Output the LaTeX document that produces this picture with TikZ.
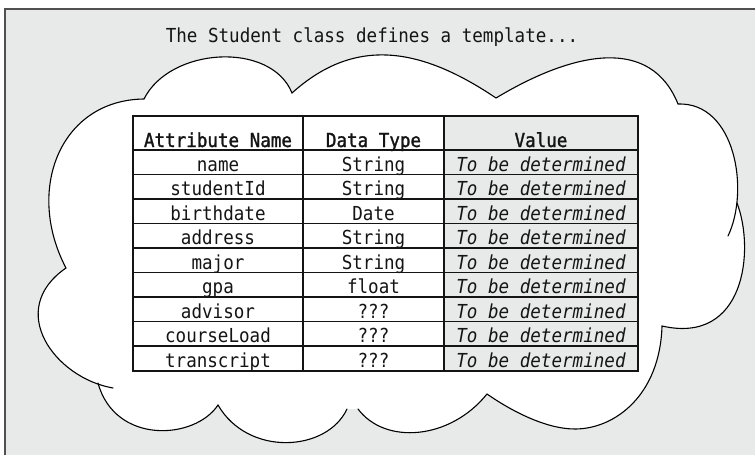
\documentclass[tikz,border=0pt]{standalone}
\usepackage{fontspec}
\newfontfamily\monof[FakeStretch=0.91,ItalicFont={DejaVu Sans Mono Oblique}]{DejaVu Sans Mono}
\newfontfamily\monosb[FakeStretch=0.91,FakeBold=1.4]{DejaVu Sans Mono}
\definecolor{bgc}{RGB}{232,233,233}
\definecolor{framec}{RGB}{80,80,80}
\definecolor{inkc}{RGB}{20,20,20}
\begin{document}
\begin{tikzpicture}[x=1pt,y=-1pt,
  txt/.style={font={\monof\fontsize{19.3pt}{22pt}\selectfont}, anchor=base, inner sep=0pt, text=inkc},
  hdr/.style={txt, font={\monosb\fontsize{19.3pt}{22pt}\selectfont}},
  val/.style={txt, font={\monof\itshape\fontsize{19.3pt}{22pt}\selectfont}},
  tline/.style={draw=inkc, line width=1.3pt},
  cloudline/.style={draw=black, line width=1.1pt, line cap=round}]
\useasboundingbox (0,0) rectangle (755,455);
\clip (0,0) rectangle (755,455);
% frame
\filldraw[fill=bgc, draw=framec, line width=1.4pt] (5,9) rectangle (790,490);
% title
\node[txt] (title) at (372,42) {The Student class defines a template...};
% cloud fill
\fill[white] (144,99) .. controls (170,47) and (271,41) .. (292,93)
 .. controls (352,39) and (416,44) .. (496,98)
 .. controls (576,50) and (651,37) .. (678,104)
 .. controls (735,102) and (750,190) .. (728,236) -- (737,203)
 .. controls (755,250) and (745,345) .. (662,326)
 .. controls (660,395) and (615,429) .. (575,429)
 .. controls (545,429) and (510,410) .. (487,394)
 .. controls (450,440) and (385,445) .. (358,409)
 -- (347,409)
 .. controls (327,452) and (248,457) .. (218,405)
 .. controls (195,440) and (115,445) .. (98,383) -- (113,388)
 .. controls (55,378) and (5,310) .. (66,268)
 .. controls (25,190) and (60,100) .. (144,99) -- cycle;
% cloud strokes
\draw[cloudline] (113,388) .. controls (55,378) and (5,310) .. (66,268)
 .. controls (25,190) and (60,100) .. (144,99)
 .. controls (170,47) and (271,41) .. (292,93)
 .. controls (352,39) and (416,44) .. (496,98)
 .. controls (576,50) and (651,37) .. (678,104)
 .. controls (735,102) and (750,190) .. (728,236);
\draw[cloudline] (737,203) .. controls (755,250) and (745,345) .. (662,326)
 .. controls (660,395) and (615,429) .. (575,429)
 .. controls (545,429) and (510,410) .. (487,394)
 .. controls (450,440) and (385,445) .. (358,409);
\draw[cloudline] (347,409) .. controls (327,452) and (248,457) .. (218,405)
 .. controls (195,440) and (115,445) .. (98,383);
% table
\fill[bgc] (444,116) rectangle (638,371);
\foreach \i in {0,...,8} {
  \draw[tline] (133,{150+24.5*\i}) -- (638,{150+24.5*\i});
}
\draw[tline] (303,116) -- (303,371);
\draw[tline] (444,116) -- (444,371);
\draw[tline] (133,116) rectangle (638,371);
% header
\node[hdr] (h1) at (218,147) {Attribute Name};
\node[hdr] (h2) at (373.5,147) {Data Type};
\node[hdr] (h3) at (541,147) {Value};
% rows
\foreach \a/\t [count=\i] in {name/String, studentId/String, birthdate/Date, address/String, major/String, gpa/float, advisor/???, courseLoad/???, transcript/???} {
  \node[txt] (a\i) at (218,{146.5+24.5*\i}) {\a};
  \node[txt] (t\i) at (373.5,{146.5+24.5*\i}) {\t};
  \node[val] (v\i) at (541,{146.5+24.5*\i}) {To be determined};
}
\end{tikzpicture}
\end{document}
